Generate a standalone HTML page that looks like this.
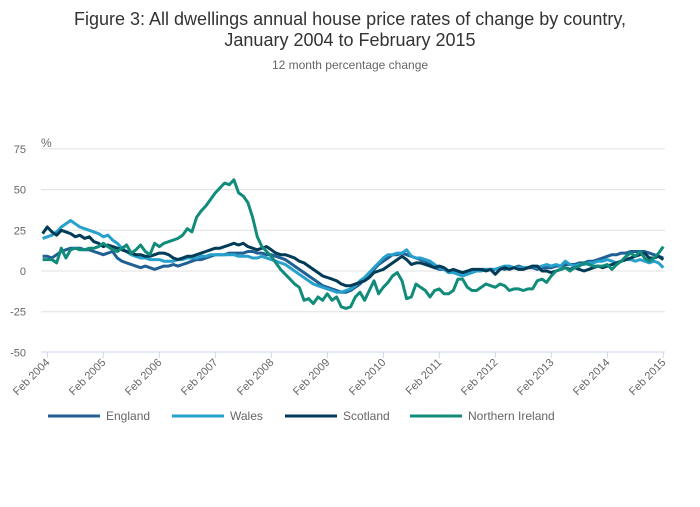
<!DOCTYPE html>
<html><head><meta charset="utf-8"><style>
body{margin:0;background:#fff;width:700px;height:502px;overflow:hidden;font-family:"Liberation Sans",sans-serif}
svg text{font-family:"Liberation Sans",sans-serif}
</style></head><body>
<svg id="chart" width="700" height="502">
<text x="350" y="25" text-anchor="middle" font-size="18" fill="#333">Figure 3: All dwellings annual house price rates of change by country,</text>
<text x="350" y="46" text-anchor="middle" font-size="18" fill="#333">January 2004 to February 2015</text>
<text x="350" y="69" text-anchor="middle" font-size="12" fill="#666">12 month percentage change</text>
<text x="41" y="147" font-size="12" fill="#666">%</text>
<g id="grid"></g><g id="xaxis"></g><g id="lines"></g><g id="legend"></g>
</svg>
<script>
const yTicks=[75,50,25,0,-25,-50];
const xTickLabels=["Feb 2004","Feb 2005","Feb 2006","Feb 2007","Feb 2008","Feb 2009","Feb 2010","Feb 2011","Feb 2012","Feb 2013","Feb 2014","Feb 2015"];
const seriesNames=["England","Wales","Scotland","Northern Ireland"];
const england=[9,9,8,10,12,13,14,14,14,13,13,12, 11,10,11,12,8,6,5,4,3,2,3,2, 1,2,3,3,4,3,4,5,6,7,7,8, 9,10,10,10,11,11,11,11,12,12,11,11, 10,10,9,8,7,5,3,1,-1,-3,-5,-7, -9,-10,-11,-12,-13,-13,-12,-10,-8,-5,-2,1, 4,6,8,10,10,11,10,9,8,7,6,4, 2,1,1,0,0,-1,-1,-1,0,0,1,1, 1,1,2,1,2,2,3,2,2,2,1,2, 2,2,3,3,4,4,4,5,5,6,6,7, 8,9,10,10,11,11,12,12,12,12,11,10, 9,8];
const wales=[20,21,22,24,27,29,31,29,27,26,25,24, 23,21,22,19,17,14,12,10,9,8,8,7, 7,7,6,6,6,7,7,8,8,8,9,9, 10,10,10,10,10,10,9,9,9,8,8,9, 8,7,6,5,4,2,0,-2,-4,-6,-8,-9, -10,-11,-12,-13,-13,-12,-11,-9,-6,-4,-1,2, 5,8,10,10,11,11,13,9,8,8,7,6, 4,2,1,-1,-1,-2,-3,-2,-1,0,0,1, 1,1,2,3,3,2,2,2,2,3,2,3, 4,3,4,3,6,4,3,4,4,5,5,6, 6,7,6,5,6,7,7,6,7,6,5,6, 5,2];
const scotland=[23,27,24,22,25,24,23,21,22,20,21,18, 17,15,16,15,14,13,12,11,10,10,9,9, 10,11,11,10,8,7,8,9,9,10,11,12, 13,14,14,15,16,17,16,17,15,14,13,14, 15,13,11,10,10,9,8,6,5,3,1,-1, -3,-4,-5,-6,-8,-9,-9,-8,-7,-6,-4,-1, 0,1,3,5,7,9,7,4,5,5,4,3, 2,3,2,0,1,0,-1,0,1,1,1,0, 1,-2,1,2,1,2,1,1,2,3,3,0, 0,-1,0,1,2,1,2,1,0,1,2,3, 2,3,4,5,6,7,8,9,10,11,8,8, 9,7];
const nireland=[7,7,7,5,14,8,13,14,13,13,14,14, 15,17,15,13,12,14,16,11,13,16,12,10, 17,15,17,18,19,20,22,26,24,33,37,40, 44,48,51,54,53,56,48,46,42,33,21,15, 12,9,5,1,-2,-5,-8,-10,-18,-17,-20,-16, -18,-14,-18,-16,-22,-23,-22,-16,-13,-18,-12,-6, -14,-10,-7,-3,-1,-6,-17,-16,-8,-10,-12,-16, -12,-11,-14,-14,-12,-5,-5,-10,-12,-12,-10,-8, -9,-10,-8,-9,-12,-11,-11,-12,-11,-11,-6,-5, -7,-3,0,1,2,0,2,3,5,4,3,3, 3,4,1,4,6,9,11,9,12,8,6,8, 11,15];
const colors=["#206095","#27a0cc","#003c57","#118c7b"];
const NS="http://www.w3.org/2000/svg";
function mk(t,a,p){const e=document.createElementNS(NS,t);for(const k in a)e.setAttribute(k,a[k]);p.appendChild(e);return e;}
const x=m=>42.6+m*4.667;
const y=v=>271-v*1.628;
const grid=document.getElementById('grid');
yTicks.forEach(v=>{
 if(v!==-50){const l=mk('line',{x1:41,x2:665,y1:y(v),y2:y(v),stroke:'#e0e0e0','stroke-width':1},grid);
 
 }
 const t=mk('text',{x:26,y:y(v)+4,'text-anchor':'end','font-size':11,fill:'#666'},grid);
 t.textContent=v;
 
 
});
const xa=document.getElementById('xaxis');
const ax=mk('line',{x1:41,x2:665,y1:352,y2:352,stroke:'#ccd6eb','stroke-width':1},xa);


xTickLabels.forEach((s,i)=>{
 const xx=x(1+12*i);
 const tk=mk('line',{x1:xx,x2:xx,y1:352,y2:358,stroke:'#ccd6eb'},xa);
 
 
 const t=mk('text',{x:xx+3,y:363,'text-anchor':'end','font-size':11,fill:'#666',transform:`rotate(-45 ${xx+3} 363)`},xa);
 t.textContent=s;
 
 
});
const lg=document.getElementById('lines');
[england,wales,scotland,nireland].forEach((d,si)=>{
 const p=mk('path',{d:d.map((v,i)=>(i?'L':'M')+x(i).toFixed(1)+' '+y(v).toFixed(1)).join(''),fill:'none',stroke:colors[si],'stroke-width':3,'stroke-linejoin':'round'},lg);
 
 
});
const leg=document.getElementById('legend');
const lx=[48,172,285,410];
seriesNames.forEach((n,i)=>{
 const l=mk('line',{x1:lx[i],x2:lx[i]+52,y1:416,y2:416,stroke:colors[i],'stroke-width':3},leg);
 
 
 const t=mk('text',{x:lx[i]+58,y:420,'font-size':12,fill:'#666'},leg);
 t.textContent=n;
 
 
});
</script>
</body></html>
